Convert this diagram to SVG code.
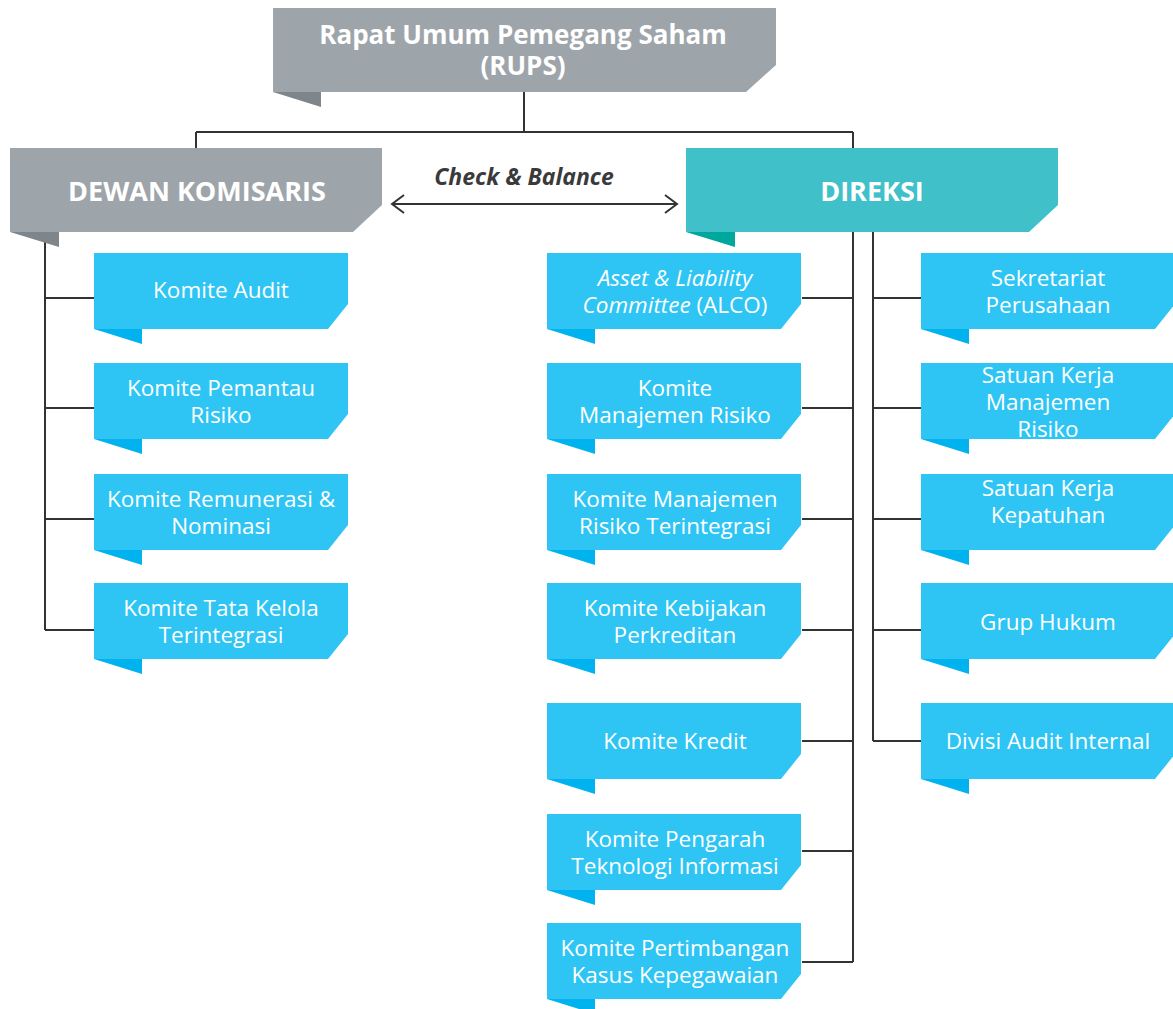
<svg xmlns="http://www.w3.org/2000/svg" width="1173" height="1009" viewBox="0 0 1173 1009">
<defs>
<style>
.ln{fill:none;stroke:#333333;stroke-width:2}
.sb{fill:#2ec5f4}
.sf{fill:#00b2ee}
.gb{fill:#9ea5aa}
.gf{fill:#7e858b}
.tb{fill:#40c0c9}
.tf{fill:#00a79c}
.t{font-family:"Open Sans","Noto Sans","Liberation Sans",sans-serif;font-size:22.5px;fill:#ffffff;text-anchor:middle}
.h{font-family:"Open Sans","Noto Sans","Liberation Sans",sans-serif;font-weight:bold;fill:#ffffff;text-anchor:middle}
.cb{font-family:"Open Sans","Noto Sans","Liberation Sans",sans-serif;font-weight:bold;font-style:italic;font-size:23px;fill:#3a3a3a;text-anchor:middle}
</style>
<path id="sbody" d="M0,0H254V51L234,76H0Z"/>
<path id="sfold" d="M0,76H48V91Z"/>
<path id="bbody" d="M0,0H372V57L343,84H0Z"/>
<path id="bfold" d="M0,84H49V99Z"/>
</defs>
<rect width="1173" height="1009" fill="#ffffff"/>

<g id="connectors">
<path class="ln" d="M524,92V132M196,132H853M196,132V148M853,132V962"/>
<path class="ln" d="M45,232V630M45,298H94M45,408H94M45,519H94M45,630H94"/>
<path class="ln" d="M802,298H853M802,408H853M802,519H853M802,630H853M802,741H853M802,851H853M802,962H853"/>
<path class="ln" d="M873,232V741M873,298H921M873,408H921M873,519H921M873,630H921M873,741H921"/>
<path class="ln" d="M392,204H677M404,195L392,204L404,213M665,195L677,204L665,213" stroke-width="1.8"/>
</g>
<text class="cb" x="524" y="185">Check &amp; Balance</text>

<g id="rups">
<path class="gb" d="M273,8H776V65L746,92H273Z"/>
<path class="gf" d="M273,92H321V107Z"/>
<text class="h" font-size="26" x="523" y="44">Rapat Umum Pemegang Saham</text>
<text class="h" font-size="26" x="523" y="75">(RUPS)</text>
</g>

<g id="dewan-komisaris" transform="translate(10,148)">
<use href="#bbody" class="gb"/>
<use href="#bfold" class="gf"/>
<text class="h" font-size="27" x="187" y="53">DEWAN KOMISARIS</text>
</g>

<g id="direksi" transform="translate(686,148)">
<use href="#bbody" class="tb"/>
<use href="#bfold" class="tf"/>
<text class="h" font-size="27" x="186" y="53">DIREKSI</text>
</g>

<!-- left column -->
<g id="komite-audit" transform="translate(94,253)">
<use href="#sbody" class="sb"/><use href="#sfold" class="sf"/>
<text class="t" x="127" y="45">Komite Audit</text>
</g>
<g id="komite-pemantau-risiko" transform="translate(94,363)">
<use href="#sbody" class="sb"/><use href="#sfold" class="sf"/>
<text class="t" x="127" y="33">Komite Pemantau</text>
<text class="t" x="127" y="60">Risiko</text>
</g>
<g id="komite-remunerasi" transform="translate(94,474)">
<use href="#sbody" class="sb"/><use href="#sfold" class="sf"/>
<text class="t" x="127" y="33">Komite Remunerasi &amp;</text>
<text class="t" x="127" y="60">Nominasi</text>
</g>
<g id="komite-tata-kelola" transform="translate(94,583)">
<use href="#sbody" class="sb"/><use href="#sfold" class="sf"/>
<text class="t" x="127" y="33">Komite Tata Kelola</text>
<text class="t" x="127" y="60">Terintegrasi</text>
</g>

<!-- middle column -->
<g id="alco" transform="translate(547,253)">
<use href="#sbody" class="sb"/><use href="#sfold" class="sf"/>
<text class="t" x="128" y="33" font-style="italic">Asset &amp; Liability</text>
<text class="t" x="128" y="60"><tspan font-style="italic">Committee</tspan> (ALCO)</text>
</g>
<g id="komite-manajemen-risiko" transform="translate(547,363)">
<use href="#sbody" class="sb"/><use href="#sfold" class="sf"/>
<text class="t" x="128" y="33">Komite</text>
<text class="t" x="128" y="60">Manajemen Risiko</text>
</g>
<g id="komite-mr-terintegrasi" transform="translate(547,474)">
<use href="#sbody" class="sb"/><use href="#sfold" class="sf"/>
<text class="t" x="128" y="33">Komite Manajemen</text>
<text class="t" x="128" y="60">Risiko Terintegrasi</text>
</g>
<g id="komite-kebijakan-perkreditan" transform="translate(547,583)">
<use href="#sbody" class="sb"/><use href="#sfold" class="sf"/>
<text class="t" x="128" y="33">Komite Kebijakan</text>
<text class="t" x="128" y="60">Perkreditan</text>
</g>
<g id="komite-kredit" transform="translate(547,703)">
<use href="#sbody" class="sb"/><use href="#sfold" class="sf"/>
<text class="t" x="128" y="46">Komite Kredit</text>
</g>
<g id="komite-pengarah-ti" transform="translate(547,814)">
<use href="#sbody" class="sb"/><use href="#sfold" class="sf"/>
<text class="t" x="128" y="33">Komite Pengarah</text>
<text class="t" x="128" y="60">Teknologi Informasi</text>
</g>
<g id="komite-pertimbangan" transform="translate(547,923)">
<use href="#sbody" class="sb"/><use href="#sfold" class="sf"/>
<text class="t" x="128" y="33">Komite Pertimbangan</text>
<text class="t" x="128" y="60">Kasus Kepegawaian</text>
</g>

<!-- right column -->
<g id="sekretariat-perusahaan" transform="translate(921,253)">
<use href="#sbody" class="sb"/><use href="#sfold" class="sf"/>
<text class="t" x="127" y="33">Sekretariat</text>
<text class="t" x="127" y="60">Perusahaan</text>
</g>
<g id="skmr" transform="translate(921,363)">
<use href="#sbody" class="sb"/><use href="#sfold" class="sf"/>
<text class="t" x="127" y="20">Satuan Kerja</text>
<text class="t" x="127" y="47">Manajemen</text>
<text class="t" x="127" y="74">Risiko</text>
</g>
<g id="skk" transform="translate(921,474)">
<use href="#sbody" class="sb"/><use href="#sfold" class="sf"/>
<text class="t" x="127" y="22">Satuan Kerja</text>
<text class="t" x="127" y="49">Kepatuhan</text>
</g>
<g id="grup-hukum" transform="translate(921,583)">
<use href="#sbody" class="sb"/><use href="#sfold" class="sf"/>
<text class="t" x="127" y="47">Grup Hukum</text>
</g>
<g id="divisi-audit-internal" transform="translate(921,703)">
<use href="#sbody" class="sb"/><use href="#sfold" class="sf"/>
<text class="t" x="127" y="46">Divisi Audit Internal</text>
</g>
</svg>
